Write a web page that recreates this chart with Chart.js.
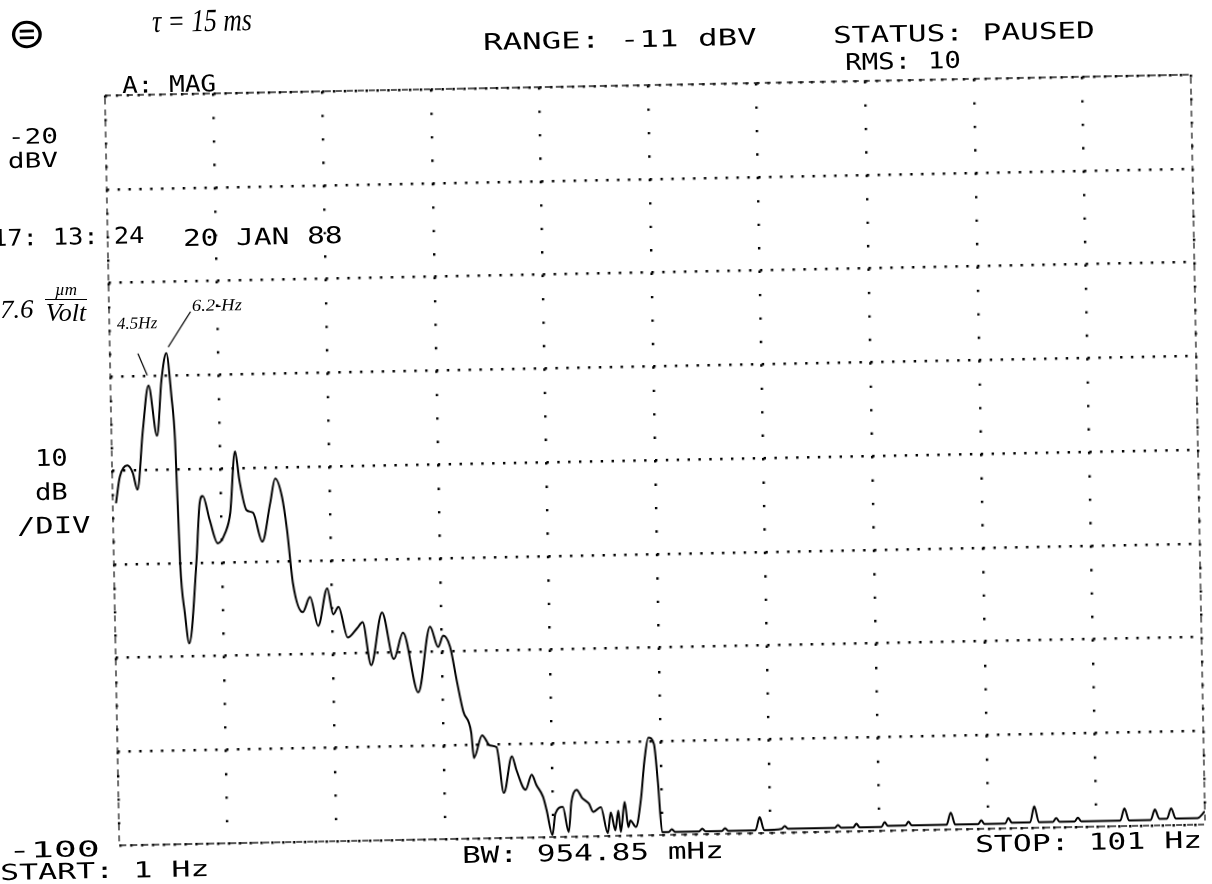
<!DOCTYPE html>
<html>
<head>
<meta charset="utf-8">
<script src="https://cdn.jsdelivr.net/npm/chart.js@4/dist/chart.umd.min.js"></script>
<style>
  html, body { margin: 0; padding: 0; background: #fff; width: 1212px; height: 884px; overflow: hidden; }
  #plot { position: absolute; left: 0; top: 0; width: 1212px; height: 884px;
          transform: rotate(-1.1deg); transform-origin: 655px 460px; }
  #labels { position: absolute; left: 0; top: 0; width: 1212px; height: 884px; }
  .lbl { position: absolute; white-space: pre; line-height: 1; color: #000; transform-origin: 0 50%; }
  .prn { font-family: "DejaVu Sans Mono", monospace; font-size: 23px; }
  .hand { font-family: "Liberation Serif", serif; font-style: italic; }
  .frac { position: absolute; font-family: "Liberation Serif", serif; font-style: italic; text-align: center; line-height: 1; width: 42px; }
  .frac .num { display: block; font-size: 17px; padding-bottom: 1px; border-bottom: 1.5px solid #000; }
  .frac .den { display: block; font-size: 26px; padding-top: 0; }
</style>
</head>
<body>
<div id="plot"><canvas id="c" width="1212" height="884"></canvas></div>
<div id="labels"></div>
<script>
// Spectrum trace: frequency (Hz) and magnitude (dBV)
const traceHz = [
  1.3, 1.7, 2.4, 2.9, 3.3, 3.9, 4.5, 5.2, 5.7, 6.2,
  6.6, 6.85, 7.1, 7.45, 7.8, 8.6, 9.0, 9.3, 9.9, 10.6,
  11.3, 11.8, 12.35, 12.7, 13.3, 13.9, 14.7, 15.5, 16.0, 16.6,
  17.0, 17.45, 18.3, 19.0, 19.7, 20.6, 21.1, 21.6, 22.4, 23.3,
  23.8, 24.5, 25.6, 26.6, 27.5, 28.8, 30.0, 30.7, 31.2, 31.8,
  32.4, 32.9, 33.6, 33.8, 34.6, 35.3, 35.9, 36.5, 37.3, 37.7,
  38.5, 39.1, 39.5, 40.1, 40.4, 40.9, 41.2, 41.9, 42.4, 42.7,
  43.2, 43.7, 44.3, 44.7, 45.4, 46.0, 46.3, 46.7, 47.0, 47.2,
  47.6, 47.9, 48.1, 48.6, 49.1, 49.5, 49.9, 50.4, 50.7, 51.0,
  51.6, 51.9, 52.2, 54.4, 54.7, 55.0, 56.5, 56.8, 57.1,
  59.6, 60.0, 60.4, 62.0, 62.3, 62.6, 66.9, 67.2, 67.5,
  68.6, 68.9, 69.2, 71.2, 71.5, 71.8, 73.4, 73.7, 74.0,
  77.2, 77.6, 78.0, 80.1, 80.4, 80.7, 82.6, 82.9, 83.2,
  84.9, 85.3, 85.7, 87.0, 87.3, 87.6, 89.0, 89.3, 89.6,
  93.2, 93.6, 94.0, 96.0, 96.4, 96.8, 97.5, 97.9, 98.3,
  100.3, 101.0
];
const traceDbv = [
  -63.5, -60.7, -59.5, -60.3, -62.1, -55.8, -51.0, -56.4, -50.5, -47.6,
  -52.3, -56.9, -70.0, -75.4, -78.6, -70.0, -63.7, -62.9, -65.5, -68.0,
  -66.9, -64.8, -58.2, -61.3, -64.5, -64.8, -67.9, -63.8, -61.2, -63.2,
  -66.7, -72.4, -75.5, -73.9, -77.0, -73.0, -75.8, -75.0, -78.3, -77.3,
  -76.7, -81.3, -75.7, -80.7, -77.9, -84.3, -77.3, -79.5, -78.3, -79.5,
  -83.4, -86.4, -88.7, -91.4, -89.0, -90.1, -90.3, -95.2, -91.3, -92.8,
  -94.9, -93.3, -94.4, -95.7, -97.1, -99.8, -97.5, -96.8, -99.5, -96.3,
  -95.0, -95.9, -96.5, -97.4, -96.9, -99.7, -97.5, -99.4, -97.3, -99.6,
  -96.4, -99.1, -98.4, -99.1, -96.2, -92.0, -89.6, -90.3, -94.4, -99.7,
  -99.7, -99.4, -99.7, -99.7, -99.4, -99.7, -99.7, -99.4, -99.7,
  -99.7, -98.3, -99.7, -99.6, -99.3, -99.6, -99.6, -99.3, -99.6,
  -99.6, -99.2, -99.6, -99.6, -99.1, -99.5, -99.5, -99.1, -99.5,
  -99.5, -98.2, -99.5, -99.5, -99.1, -99.5, -99.5, -98.9, -99.4,
  -99.4, -97.7, -99.4, -99.4, -99.0, -99.4, -99.4, -99.0, -99.4,
  -99.4, -98.1, -99.4, -99.4, -98.3, -99.3, -99.3, -98.2, -99.3,
  -99.3, -98.6
];

// Graticule: START 1 Hz to STOP 101 Hz, -20 dBV top, 10 dB/DIV
const freqGridHz = [1, 11, 21, 31, 41, 51, 61, 71, 81, 91, 101];
const dbvGrid = [-100, -90, -80, -70, -60, -50, -40, -30, -20];

// Hand-marked resonance peaks
const annotatedPeaksHz = [4.5, 6.2];
const annotatedPeakText = ['4.5Hz', '6.2-Hz'];

// Leader strokes from each handwritten note down to its peak (pixel offsets)
const leaderOffsets = [[-10, -32, -1, -10], [25, -41, 2, -6]];

const framePlugin = {
  id: 'frame',
  beforeDatasetsDraw(chart) {
    const { ctx, chartArea: a } = chart;
    ctx.save();
    ctx.strokeStyle = '#222';
    ctx.lineWidth = 1.3;
    ctx.setLineDash([6, 5]);
    ctx.strokeRect(a.left, a.top, a.right - a.left, a.bottom - a.top);
    ctx.restore();
  }
};

const leaderPlugin = {
  id: 'leaders',
  afterDatasetsDraw(chart) {
    const { ctx, scales: { x, y } } = chart;
    ctx.save();
    ctx.strokeStyle = '#000';
    ctx.lineWidth = 1.3;
    annotatedPeaksHz.forEach((hz, k) => {
      const i = traceHz.indexOf(hz);
      const px = x.getPixelForValue(hz);
      const py = y.getPixelForValue(traceDbv[i]);
      const o = leaderOffsets[k];
      ctx.beginPath();
      ctx.moveTo(px + o[0], py + o[1]);
      ctx.lineTo(px + o[2], py + o[3]);
      ctx.stroke();
    });
    ctx.restore();
  }
};

new Chart(document.getElementById('c'), {
  type: 'line',
  data: {
    datasets: [{
      data: traceHz.map((f, i) => ({ x: f, y: traceDbv[i] })),
      borderColor: '#000',
      borderWidth: 2,
      pointRadius: 0,
      cubicInterpolationMode: 'monotone',
      fill: false
    }]
  },
  options: {
    responsive: false,
    animation: false,
    devicePixelRatio: 1,
    layout: { padding: { left: 112, top: 85, right: 14, bottom: 49 } },
    plugins: { legend: { display: false }, tooltip: { enabled: false } },
    scales: {
      x: {
        type: 'linear', min: 1, max: 101,
        ticks: { display: false },
        grid: { color: '#000', lineWidth: 2.4, drawTicks: false },
        border: { display: false, dash: [2.4, 21.04] },
        afterBuildTicks: s => { s.ticks = freqGridHz.map(v => ({ value: v })); },
        afterFit: s => { s.height = 0; }
      },
      y: {
        type: 'linear', min: -100, max: -20,
        ticks: { display: false },
        grid: { color: '#000', lineWidth: 2.4, drawTicks: false },
        border: { display: false, dash: [2.4, 8.46] },
        afterBuildTicks: s => { s.ticks = dbvGrid.map(v => ({ value: v })); },
        afterFit: s => { s.width = 0; }
      }
    }
  },
  plugins: [framePlugin, leaderPlugin]
});

// Printed and handwritten text around the display
const labels = [
  { t: 'RANGE: -11 dBV', x: 483, y: 42, w: 274, c: 'prn' },
  { t: 'STATUS: PAUSED', x: 833, y: 35, w: 262, c: 'prn' },
  { t: 'RMS: 10', x: 845, y: 62, w: 116, c: 'prn' },
  { t: 'A: MAG', x: 122, y: 85, w: 94, c: 'prn' },
  { t: '-20', x: 8, y: 137, w: 50, c: 'prn', s: 21 },
  { t: 'dBV', x: 8, y: 161, w: 50, c: 'prn', s: 21 },
  { t: '17: 13: 24', x: -8, y: 238, w: 152, c: 'prn' },
  { t: '20 JAN 88', x: 183, y: 238, w: 160, c: 'prn' },
  { t: '10', x: 35, y: 458, w: 33, c: 'prn' },
  { t: 'dB', x: 35, y: 492, w: 33, c: 'prn' },
  { t: '/DIV', x: 17, y: 526, w: 73, c: 'prn' },
  { t: '-100', x: 8, y: 851, w: 92, c: 'prn', s: 22 },
  { t: 'START: 1 Hz', x: 0, y: 873, w: 210, c: 'prn', s: 22 },
  { t: 'BW: 954.85 mHz', x: 462, y: 855, w: 262, c: 'prn' },
  { t: 'STOP: 101 Hz', x: 975, y: 844, w: 227, c: 'prn' },
  { t: '\u03C4 = 15 ms', x: 152, y: 21, w: 100, c: 'hand', s: 32 },
  { t: '\u229C', x: 8, y: 34, w: 38, c: 'hand', s: 42, upright: true },
  { t: '7.6', x: 0, y: 310, w: 34, c: 'hand', s: 26 },
  { t: annotatedPeakText[0], x: 117, y: 323, w: 40, c: 'hand', s: 17 },
  { t: annotatedPeakText[1], x: 192, y: 305, w: 50, c: 'hand', s: 17 }
];

const host = document.getElementById('labels');
labels.forEach(L => {
  const el = document.createElement('div');
  el.className = 'lbl ' + L.c;
  el.textContent = L.t;
  const size = L.s || 23;
  el.style.fontSize = size + 'px';
  if (L.upright) el.style.fontStyle = 'normal';
  el.style.left = L.x + 'px';
  el.style.top = (L.y - 0.5 * size) + 'px';
  host.appendChild(el);
  const k = L.w / el.offsetWidth;
  el.style.transform = 'rotate(-1.1deg) scaleX(' + k.toFixed(3) + ')';
});

// Sensitivity note written as a fraction: µm over Volt
const frac = document.createElement('div');
frac.className = 'frac';
frac.style.left = '45px';
frac.style.top = '281px';
frac.innerHTML = '<span class="num">\u00B5m</span><span class="den">Volt</span>';
host.appendChild(frac);
</script>
</body>
</html>
